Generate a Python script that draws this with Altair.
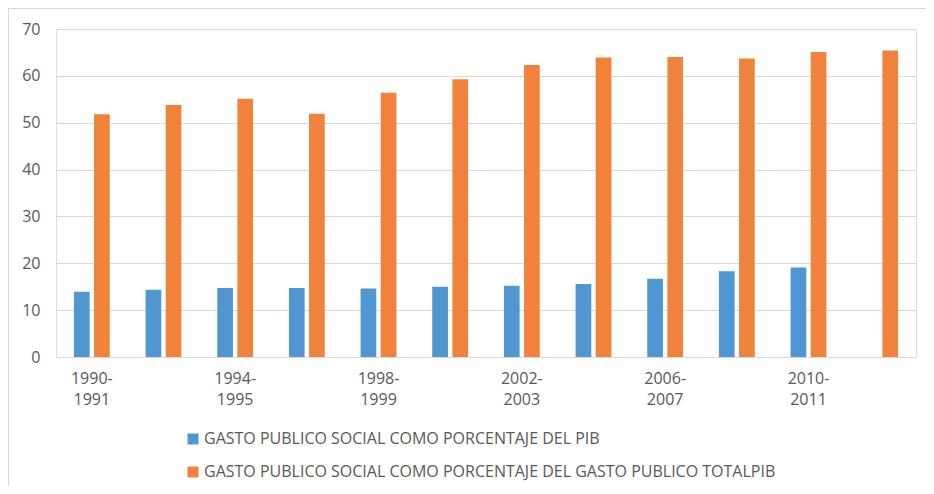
import altair as alt
import pandas as pd

periodos = ["1990-1991", "1992-1993", "1994-1995", "1996-1997", "1998-1999", "2000-2001",
            "2002-2003", "2004-2005", "2006-2007", "2008-2009", "2010-2011", "2012-2013"]
etiquetas_visibles = ["1990-1991", "1994-1995", "1998-1999", "2002-2003", "2006-2007", "2010-2011"]
serie_pib = "GASTO PUBLICO SOCIAL COMO PORCENTAJE DEL PIB"
serie_total = "GASTO PUBLICO SOCIAL COMO PORCENTAJE DEL GASTO PUBLICO TOTALPIB"
series = [serie_pib, serie_total]
colores = ["#5096D1", "#F1823B"]
gasto_pib = [13.9, 14.35, 14.7, 14.7, 14.6, 15.0, 15.2, 15.6, 16.7, 18.3, 19.1, None]
gasto_total = [51.8, 53.8, 55.1, 51.9, 56.4, 59.3, 62.3, 63.9, 64.0, 63.7, 65.1, 65.4]
ticks_y = [0, 10, 20, 30, 40, 50, 60, 70]

rows = []
for p, a, b in zip(periodos, gasto_pib, gasto_total):
    if a is not None:
        rows.append({"periodo": p, "serie": serie_pib, "valor": a})
    if b is not None:
        rows.append({"periodo": p, "serie": serie_total, "valor": b})
df = pd.DataFrame(rows)

vis = "[" + ",".join(f"'{v}'" for v in etiquetas_visibles) + "]"
x_label_expr = (f"indexof({vis}, datum.value) >= 0 ? "
                f"[slice(datum.value, 0, 5), slice(datum.value, 5)] : ''")

FONT = "Open Sans"
TXT = "#595959"
FS = 16

bars = alt.Chart(df).mark_bar().encode(
    x=alt.X("periodo:N", sort=periodos, title=None,
            scale=alt.Scale(paddingInner=0.5, paddingOuter=0.25),
            axis=alt.Axis(labelExpr=x_label_expr, labelAngle=0, domain=False, ticks=False,
                          labelOverlap=False, labelPadding=13, labelLineHeight=21,
                          labelFontSize=FS, labelColor=TXT, labelFont=FONT)),
    xOffset=alt.XOffset("serie:N", sort=series, scale=alt.Scale(paddingInner=0.22)),
    y=alt.Y("valor:Q", title=None, scale=alt.Scale(domain=[0, 70], nice=False),
            axis=alt.Axis(values=ticks_y, domain=False, ticks=False, labelPadding=16,
                          gridColor="#d9d9d9", gridWidth=1.2,
                          labelFontSize=FS, labelColor=TXT, labelFont=FONT)),
    color=alt.Color("serie:N", sort=series,
                    scale=alt.Scale(domain=series, range=colores),
                    legend=alt.Legend(title=None, orient="none", legendX=129, legendY=402,
                                      direction="vertical", symbolType="square", symbolSize=121,
                                      symbolStrokeWidth=0, rowPadding=17, labelOffset=3,
                                      labelLimit=900,
                                      labelFontSize=FS, labelColor=TXT, labelFont=FONT)),
)

frame_df = pd.DataFrame({"k": [0]})
top_rule = alt.Chart(frame_df).mark_rule(color="#d9d9d9", strokeWidth=1).encode(
    x=alt.value(-48), x2=alt.value(870), y=alt.value(-20.5))
left_rule = alt.Chart(frame_df).mark_rule(color="#d9d9d9", strokeWidth=1).encode(
    x=alt.value(-47.5), y=alt.value(-21), y2=alt.value(457))

chart = alt.layer(bars, top_rule, left_rule).properties(
    width=860, height=328,
    autosize=alt.AutoSizeParams(type="none"),
    padding={"left": 48, "top": 21, "right": 10, "bottom": 129},
).configure_view(stroke=None).configure(background="white")

chart.save("out.html", embed_options={"renderer": "svg", "actions": False})
